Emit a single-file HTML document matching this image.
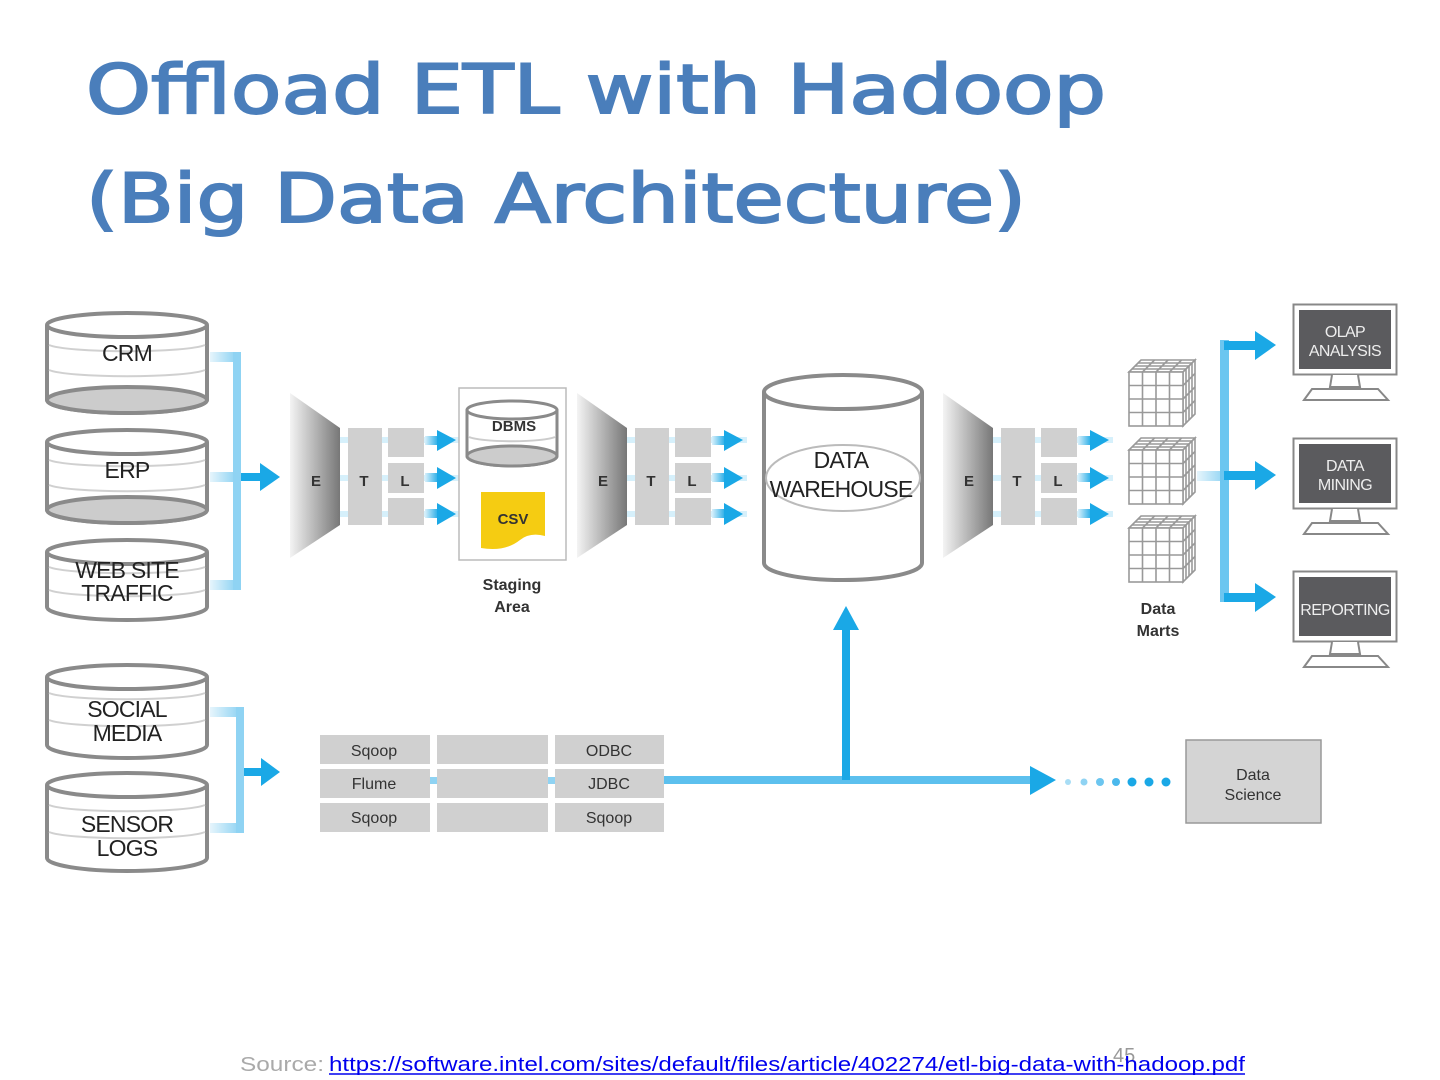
<!DOCTYPE html>
<html><head><meta charset="utf-8"><style>
html,body{margin:0;padding:0;background:#fff;}
svg{display:block;}
</style></head><body>
<svg width="1440" height="1080" viewBox="0 0 1440 1080" xmlns="http://www.w3.org/2000/svg" font-family="Liberation Sans, DejaVu Sans, sans-serif">
<defs>
<linearGradient id="fun" x1="0" x2="1" y1="0" y2="0"><stop offset="0" stop-color="#f4f4f4"/><stop offset="1" stop-color="#777"/></linearGradient>
<linearGradient id="fadeR" x1="0" x2="1"><stop offset="0" stop-color="#d8f0fb"/><stop offset="1" stop-color="#1aa8e6"/></linearGradient>
<linearGradient id="fadeL" x1="0" x2="1"><stop offset="0" stop-color="#e6f5fc"/><stop offset="1" stop-color="#8fd3f3"/></linearGradient>
<symbol id="cube" viewBox="0 0 70 70">
<g fill="#fff" stroke="#999" stroke-width="1.6">
<polygon points="2,14 14,2 68,2 56,14"/><polygon points="56,14 68,2 68,56 56,68"/>
<rect x="2" y="14" width="54" height="54"/>
</g>
<g stroke="#999" stroke-width="1.6" fill="none">
<path d="M15.5,14V68M29,14V68M42.5,14V68M2,27.5H56M2,41H56M2,54.5H56"/>
<path d="M5,11H59M8,8H62M11,5H65M15.5,14L27.5,2M29,14L41,2M42.5,14L54.5,2"/>
<path d="M59,11V65M62,8V62M65,5V59M56,27.5L68,15.5M56,41L68,29M56,54.5L68,42.5"/>
</g>
</symbol>
<symbol id="mon" viewBox="0 0 106 100">
<rect x="1.5" y="1.5" width="103" height="70" fill="#fff" stroke="#888" stroke-width="2"/>
<rect x="7" y="7" width="92" height="59" fill="#5b5b5e"/>
<path d="M40,72 L38,84 L68,84 L66,72" fill="#fff" stroke="#888" stroke-width="2"/>
<path d="M12,97 L20,86 L86,86 L96,97 Z" fill="#fff" stroke="#888" stroke-width="2"/>
</symbol>
</defs>

<!-- Title -->
<g fill="#4a7ebb" stroke="#4a7ebb" stroke-width="2" font-family="DejaVu Sans, Liberation Sans, sans-serif" font-size="68">
<text x="86" y="113" textLength="1020" lengthAdjust="spacingAndGlyphs">Offload ETL with Hadoop</text>
<text x="86" y="222" textLength="940" lengthAdjust="spacingAndGlyphs">(Big Data Architecture)</text>
</g>

<!-- Source cylinders -->
<g stroke="#8a8a8a" stroke-width="4">
<path d="M47,325 V400 A80,13 0 0 0 207,400 V325" fill="#fff"/>
<ellipse cx="127" cy="400" rx="80" ry="13" fill="#ccc"/>
<ellipse cx="127" cy="325" rx="80" ry="12" fill="#fff"/>
<path d="M47,442 V510 A80,13 0 0 0 207,510 V442" fill="#fff"/>
<ellipse cx="127" cy="510" rx="80" ry="13" fill="#ccc"/>
<ellipse cx="127" cy="442" rx="80" ry="12" fill="#fff"/>
<path d="M47,552 V607 A80,13 0 0 0 207,607 V552" fill="#fff"/>
<ellipse cx="127" cy="552" rx="80" ry="12" fill="#fff"/>
<path d="M47,677 V745 A80,13 0 0 0 207,745 V677" fill="#fff"/>
<ellipse cx="127" cy="677" rx="80" ry="12" fill="#fff"/>
<path d="M47,785 V858 A80,13 0 0 0 207,858 V785" fill="#fff"/>
<ellipse cx="127" cy="785" rx="80" ry="12" fill="#fff"/>
</g>
<g stroke="#d0d0d0" stroke-width="2" fill="none">
<path d="M49,345 A80,8 0 0 0 205,345 M49,370 A80,8 0 0 0 205,370"/>
<path d="M49,460 A80,8 0 0 0 205,460 M49,485 A80,8 0 0 0 205,485"/>
<path d="M49,567 A80,8 0 0 0 205,567 M49,590 A80,8 0 0 0 205,590"/>
<path d="M49,693 A80,8 0 0 0 205,693 M49,720 A80,8 0 0 0 205,720"/>
<path d="M49,805 A80,8 0 0 0 205,805 M49,832 A80,8 0 0 0 205,832"/>
</g>
<g fill="#222" font-size="23" text-anchor="middle" letter-spacing="-0.8">
<text x="127" y="361">CRM</text>
<text x="127" y="478">ERP</text>
<text x="127" y="578">WEB SITE</text>
<text x="127" y="601">TRAFFIC</text>
<text x="127" y="717">SOCIAL</text>
<text x="127" y="741">MEDIA</text>
<text x="127" y="832">SENSOR</text>
<text x="127" y="856">LOGS</text>
</g>

<!-- left brackets -->
<g fill="#8fd3f3">
<rect x="210" y="352" width="26" height="10" fill="url(#fadeL)"/>
<rect x="210" y="472" width="26" height="10" fill="url(#fadeL)"/>
<rect x="210" y="580" width="26" height="10" fill="url(#fadeL)"/>
<rect x="233" y="352" width="8" height="238"/>
<rect x="210" y="707" width="30" height="10" fill="url(#fadeL)"/>
<rect x="210" y="823" width="30" height="10" fill="url(#fadeL)"/>
<rect x="236" y="707" width="8" height="126"/>
</g>
<g fill="#1aa8e6">
<rect x="241" y="473" width="20" height="8"/><polygon points="260,463 280,477 260,491"/>
<rect x="244" y="768" width="18" height="8"/><polygon points="261,758 280,772 261,786"/>
</g>

<!-- ETL groups -->
<g id="etl1">
<polygon points="290,393 340,428 340,525 290,558" fill="url(#fun)"/>
<rect x="340" y="437" width="120" height="6" fill="#d6f0fb"/>
<rect x="340" y="475" width="120" height="6" fill="#d6f0fb"/>
<rect x="340" y="511" width="120" height="6" fill="#d6f0fb"/>
<rect x="348" y="428" width="34" height="97" fill="#d0d0d0"/>
<rect x="388" y="428" width="36" height="29" fill="#d0d0d0"/>
<rect x="388" y="463" width="36" height="30" fill="#d0d0d0"/>
<rect x="388" y="498" width="36" height="27" fill="#d0d0d0"/>
<g fill="#1aa8e6"><rect x="425" y="436" width="14" height="9" fill="url(#fadeR)"/><polygon points="437,430 456,440 437,451"/>
<rect x="425" y="473" width="14" height="9" fill="url(#fadeR)"/><polygon points="437,467 456,478 437,489"/>
<rect x="425" y="509" width="14" height="9" fill="url(#fadeR)"/><polygon points="437,503 456,514 437,525"/></g>
<g font-size="15" font-weight="bold" fill="#333" text-anchor="middle"><text x="316" y="486">E</text><text x="364" y="486">T</text><text x="405" y="486">L</text></g>
</g>
<use href="#etl1" x="287"/>
<use href="#etl1" x="653"/>

<!-- Staging area -->
<rect x="459" y="388" width="107" height="172" fill="#fff" stroke="#bbb" stroke-width="1.5"/>
<g stroke="#8a8a8a" stroke-width="3">
<path d="M467,410 V456 A45,10 0 0 0 557,456 V410" fill="#fff"/>
<ellipse cx="512" cy="456" rx="45" ry="10" fill="#ccc"/>
<ellipse cx="512" cy="410" rx="45" ry="9" fill="#fff"/>
</g>
<path d="M469,437 A45,6 0 0 0 555,437" stroke="#ccc" stroke-width="2" fill="none"/>
<text x="514" y="431" font-size="15" font-weight="bold" fill="#333" text-anchor="middle">DBMS</text>
<path d="M481,492 H545 V536 Q530,532 520,540 Q505,552 481,548 Z" fill="#f5cc12"/>
<text x="513" y="524" font-size="15" font-weight="bold" fill="#333" text-anchor="middle">CSV</text>
<g font-size="16" font-weight="bold" fill="#333" text-anchor="middle"><text x="512" y="590">Staging</text><text x="512" y="612">Area</text></g>

<!-- Data warehouse -->
<path d="M764,392 V563 A79,17 0 0 0 922,563 V392" fill="#fff" stroke="#8a8a8a" stroke-width="4"/>
<ellipse cx="843" cy="392" rx="79" ry="17" fill="#fff" stroke="#8a8a8a" stroke-width="4"/>
<ellipse cx="843" cy="478" rx="77" ry="33" fill="none" stroke="#bbb" stroke-width="2"/>
<g font-size="23" fill="#222" text-anchor="middle" letter-spacing="-0.8"><text x="841" y="468">DATA</text><text x="841" y="497">WAREHOUSE</text></g>

<!-- Data marts -->
<use href="#cube" x="1127" y="358" width="70" height="70"/>
<use href="#cube" x="1127" y="436" width="70" height="70"/>
<use href="#cube" x="1127" y="514" width="70" height="70"/>
<g font-size="16" font-weight="bold" fill="#333" text-anchor="middle"><text x="1158" y="614">Data</text><text x="1158" y="636">Marts</text></g>

<!-- right bracket -->
<rect x="1197" y="471" width="28" height="10" fill="url(#fadeL)"/>
<rect x="1220" y="340" width="9" height="262" fill="#6cc6f0"/>
<g fill="#1aa8e6">
<rect x="1224" y="341" width="34" height="9"/><polygon points="1255,331 1276,345 1255,360"/>
<rect x="1224" y="471" width="34" height="9"/><polygon points="1255,461 1276,475 1255,490"/>
<rect x="1224" y="593" width="34" height="9"/><polygon points="1255,583 1276,597 1255,612"/>
</g>

<!-- monitors -->
<use href="#mon" x="1292" y="303" width="106" height="100"/>
<use href="#mon" x="1292" y="437" width="106" height="100"/>
<use href="#mon" x="1292" y="570" width="106" height="100"/>
<g font-size="16" fill="#eee" text-anchor="middle" letter-spacing="-0.6">
<text x="1345" y="337">OLAP</text><text x="1345" y="356">ANALYSIS</text>
<text x="1345" y="471">DATA</text><text x="1345" y="490">MINING</text>
<text x="1345" y="615">REPORTING</text>
</g>

<!-- bottom table -->
<rect x="400" y="777" width="640" height="7" fill="#8fd3f3"/>
<rect x="660" y="776" width="380" height="8" fill="#5cc0ee"/>
<polygon points="1030,766 1056,780 1030,795" fill="#1aa8e6"/>
<rect x="842" y="628" width="8" height="152" fill="#1aa8e6"/>
<polygon points="833,630 846,606 859,630" fill="#1aa8e6"/>
<g fill="#d0d0d0">
<rect x="320" y="735" width="110" height="29"/><rect x="437" y="735" width="111" height="29"/><rect x="555" y="735" width="109" height="29"/>
<rect x="320" y="769" width="110" height="29"/><rect x="437" y="769" width="111" height="29"/><rect x="555" y="769" width="109" height="29"/>
<rect x="320" y="803" width="110" height="29"/><rect x="437" y="803" width="111" height="29"/><rect x="555" y="803" width="109" height="29"/>
</g>
<g font-size="16" fill="#333" text-anchor="middle">
<text x="374" y="756">Sqoop</text><text x="609" y="756">ODBC</text>
<text x="374" y="789">Flume</text><text x="609" y="789">JDBC</text>
<text x="374" y="823">Sqoop</text><text x="609" y="823">Sqoop</text>
</g>
<g fill="#1aa8e6">
<circle cx="1068" cy="782" r="3" fill="#a8ddf5"/><circle cx="1084" cy="782" r="3.5" fill="#8fd3f3"/><circle cx="1100" cy="782" r="4" fill="#6cc6f0"/><circle cx="1116" cy="782" r="4" fill="#4bb8ec"/><circle cx="1132" cy="782" r="4.5"/><circle cx="1149" cy="782" r="4.5"/><circle cx="1166" cy="782" r="4.5"/>
</g>
<rect x="1186" y="740" width="135" height="83" fill="#d4d4d4" stroke="#999" stroke-width="1.5"/>
<g font-size="16" fill="#333" text-anchor="middle"><text x="1253" y="780">Data</text><text x="1253" y="800">Science</text></g>

<!-- footer -->
<text x="1113" y="1062" font-size="20" fill="#999">45</text>
<text x="240" y="1071" font-size="20" fill="#aaa" textLength="84" lengthAdjust="spacingAndGlyphs">Source:</text>
<text x="329" y="1071" font-size="20" fill="#0000ee" textLength="916" lengthAdjust="spacingAndGlyphs">https://software.intel.com/sites/default/files/article/402274/etl-big-data-with-hadoop.pdf</text>
<line x1="329" y1="1074" x2="1245" y2="1074" stroke="#0000ee" stroke-width="1.5"/>
</svg>
</body></html>
